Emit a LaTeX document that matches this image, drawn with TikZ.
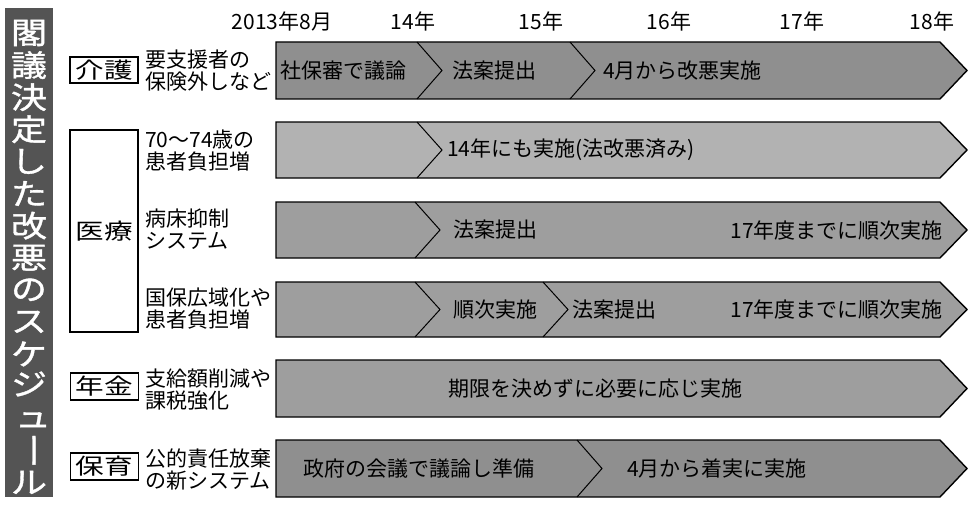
\documentclass[tikz,border=0pt]{standalone}
\usepackage{fontspec}
\newfontfamily\jp{Noto Sans CJK JP}
\newfontfamily\jpw[FakeStretch=1.3]{Noto Sans CJK JP}
\newfontfamily\jpv[FakeStretch=1.2,FakeBold=1.2]{Noto Sans CJK JP}
\definecolor{barfill}{gray}{0.33}
\definecolor{arrA}{gray}{0.56}
\definecolor{arrB}{gray}{0.70}
\definecolor{arrC}{gray}{0.62}
\newcommand\tlarrow[3]{\filldraw[arrowline, fill=#3] (276,#1) -- (940,#1) -- (967,{(#1+#2)/2}) -- (940,#2) -- (276,#2) -- cycle;}
\newcommand\tlchev[3]{\draw[arrowline, line width=1pt] (#1,#2) -- ({#1+25},{(#2+#3)/2}) -- (#1,#3);}
\begin{document}
\begin{tikzpicture}[x=1pt,y=-1pt,
  arrowline/.style={draw=black, line width=1.4pt, line join=miter},
  inlab/.style={inner sep=0pt, anchor=west, font=\jp\fontsize{21}{24}\selectfont},
  desc/.style={inner sep=0pt, anchor=west, align=left, font=\jp\fontsize{21}{22}\selectfont},
  year/.style={inner sep=0pt, font=\jp\fontsize{21}{22}\selectfont},
  catbox/.style={draw, line width=1.2pt, minimum width=68pt, inner sep=0pt, font=\jpw\fontsize{22}{24}\selectfont},
  barch/.style={inner sep=0pt, text=white, font=\jpv\fontsize{30}{30}\selectfont}]
\useasboundingbox (0,0) rectangle (970,519);
\fill[white] (0,0) rectangle (970,519);
% left title bar
\fill[barfill] (5,8) rectangle (53,497);
\foreach \ch [count=\i from 0] in {閣,議,決,定,し,た,改,悪,の,ス,ケ}
  \node[barch] (t\i) at (29,{33+\i*32.1}) {\ch};
\node[barch] (t11) at (29,384) {ジ};
\node[barch, text height=17pt, text depth=0pt] (t12) at (33,419) {ュ};
\node[barch, rotate=-90] (t13) at (29,{33+13*32.1}) {ー};
\node[barch] (t14) at (29,{33+14*32.1}) {ル};
% years
\node[year] (y13) at (282,21) {2013年8月};
\node[year] (y14) at (413,21) {14年};
\node[year] (y15) at (541,21) {15年};
\node[year] (y16) at (669,21) {16年};
\node[year] (y17) at (802,21) {17年};
\node[year] (y18) at (932,21) {18年};
% arrows
\tlarrow{42}{99}{arrA}
\tlarrow{122}{178}{arrB}
\tlarrow{202}{258}{arrC}
\tlarrow{282}{337}{arrC}
\tlarrow{360}{417}{arrC}
\tlarrow{440}{497}{arrA}
% chevrons
\tlchev{417}{42}{99}
\tlchev{570}{42}{99}
\tlchev{417}{122}{178}
\tlchev{415}{202}{258}
\tlchev{415}{282}{337}
\tlchev{543}{282}{337}
\tlchev{577}{440}{497}
% texts in arrows
\node[inlab] (a11) at (280,70.5) {社保審で議論};
\node[inlab] (a12) at (452,70.5) {法案提出};
\node[inlab] (a13) at (603,70.5) {4月から改悪実施};
\node[inlab] (a21) at (447,150) {14年にも実施(法改悪済み)};
\node[inlab] (a31) at (453,230) {法案提出};
\node[inlab, anchor=east] (a32) at (943,230) {17年度までに順次実施};
\node[inlab] (a41) at (453,309.5) {順次実施};
\node[inlab] (a42) at (572,309.5) {法案提出};
\node[inlab, anchor=east] (a43) at (943,309.5) {17年度までに順次実施};
\node[inlab] (a51) at (448,388.5) {期限を決めずに必要に応じ実施};
\node[inlab] (a61) at (303,468.5) {政府の会議で議論し準備};
\node[inlab] (a62) at (627,468.5) {4月から着実に実施};
% descriptions
\node[desc] (d1) at (145,71) {要支援者の\\保険外しなど};
\node[desc] (d2) at (145,151) {70～74歳の\\患者負担増};
\node[desc] (d3) at (145,229.5) {病床抑制\\システム};
\node[desc] (d4) at (145,309) {国保広域化や\\患者負担増};
\node[desc] (d5) at (145,389.5) {支給額削減や\\課税強化};
\node[desc] (d6) at (145,470) {公的責任放棄\\の新システム};
% category boxes
\node[catbox, minimum height=26pt] (c1) at (104,70) {介護};
\node[catbox, minimum height=202pt] (c2) at (104,231) {医療};
\node[catbox, minimum height=27pt] (c3) at (104.5,386.5) {年金};
\node[catbox, minimum height=27pt] (c4) at (104.5,466.5) {保育};
\end{tikzpicture}
\end{document}
